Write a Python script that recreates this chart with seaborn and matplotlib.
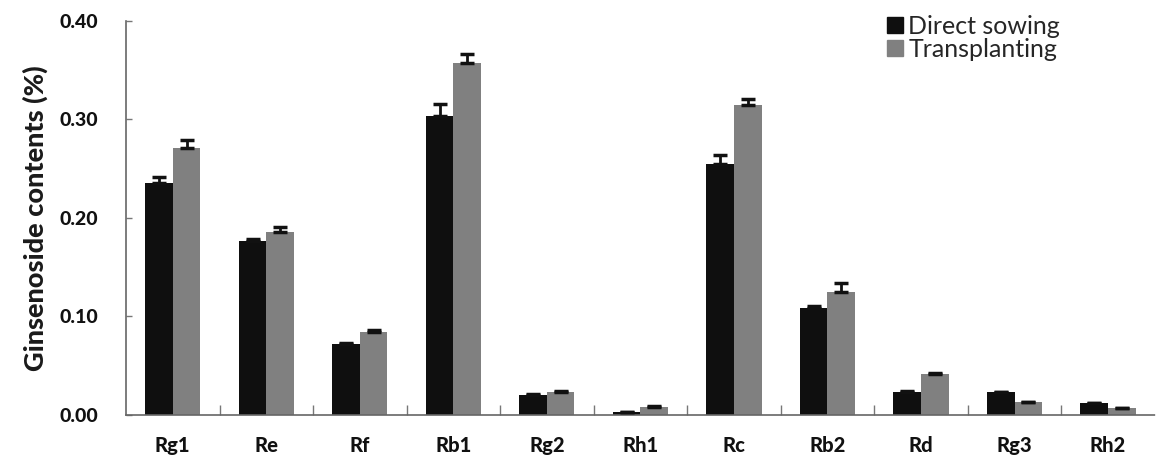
import matplotlib
matplotlib.use("Agg")
import matplotlib.pyplot as plt
import seaborn as sns
import pandas as pd
import numpy as np
from matplotlib.ticker import FixedLocator, MultipleLocator
from matplotlib.lines import Line2D

categories = ["Rg1", "Re", "Rf", "Rb1", "Rg2", "Rh1", "Rc", "Rb2", "Rd", "Rg3", "Rh2"]
direct_sowing = [0.235, 0.176, 0.072, 0.303, 0.020, 0.003, 0.255, 0.108, 0.023, 0.023, 0.012]
direct_err = [0.006, 0.003, 0.001, 0.013, 0.001, 0.000, 0.009, 0.003, 0.001, 0.000, 0.000]
transplanting = [0.271, 0.186, 0.084, 0.357, 0.023, 0.008, 0.315, 0.125, 0.042, 0.013, 0.007]
trans_err = [0.008, 0.005, 0.002, 0.009, 0.001, 0.001, 0.006, 0.009, 0.001, 0.000, 0.000]
series = ["Direct sowing", "Transplanting"]
colors = ["#0f0f0f", "#808080"]

df = pd.DataFrame({
    "ginsenoside": categories * 2,
    "value": direct_sowing + transplanting,
    "err": direct_err + trans_err,
    "method": [series[0]] * len(categories) + [series[1]] * len(categories),
})

sns.set_theme(style="white")
plt.rcParams["font.family"] = ["Lato", "DejaVu Sans"]

fig = plt.figure(figsize=(11.56, 4.72), dpi=100)
ax = fig.add_axes([0.109, 0.121, 0.89, 0.835])

sns.barplot(data=df, x="ginsenoside", y="value", hue="method", order=categories,
            hue_order=series, palette=colors, width=0.59, errorbar=None,
            saturation=1, ax=ax, legend=False, linewidth=0)

# one-sided error bars on top of each bar
for cont, errs in zip(ax.containers, [direct_err, trans_err]):
    xs = [p.get_x() + p.get_width() / 2 for p in cont.patches]
    hs = [p.get_height() for p in cont.patches]
    ax.errorbar(xs, hs, yerr=[np.zeros(len(errs)), errs], fmt="none",
                ecolor="#111111", elinewidth=2, capsize=5, capthick=2.5, zorder=5)

ax.set_xlim(-0.5, len(categories) - 0.5)
ax.set_ylim(0, 0.40)
ax.yaxis.set_major_locator(MultipleLocator(0.10))
ax.set_yticklabels([f"{v:.2f}" for v in ax.get_yticks()])
ax.xaxis.set_minor_locator(FixedLocator(np.arange(0.5, len(categories) - 0.5, 1.0)))

ax.tick_params(axis="x", which="major", length=0, pad=15, labelsize=14.5, colors="#111111")
ax.tick_params(axis="x", which="minor", direction="in", length=7, width=1, color="#777777", bottom=True)
ax.tick_params(axis="y", which="major", direction="in", length=4, width=1, color="#777777",
               left=True, pad=20, labelsize=14, labelcolor="#111111")
for lab in ax.get_xticklabels() + ax.get_yticklabels():
    lab.set_fontweight(900)

for side in ["top", "right"]:
    ax.spines[side].set_visible(False)
for side in ["left", "bottom"]:
    ax.spines[side].set_linestyle((0, (1, 1)))
    ax.spines[side].set_color("#666666")
    ax.spines[side].set_linewidth(1.2)

ax.set_xlabel("")
ax.set_ylabel("Ginsenoside contents (%)", fontsize=19.5, fontweight=900, color="#1a1a1a", labelpad=8)

handles = [Line2D([0], [0], marker="s", linestyle="none", markersize=11,
                  markerfacecolor=c, markeredgecolor=c) for c in colors]
ax.legend(handles, series, loc="upper right", bbox_to_anchor=(0.925, 1.06), frameon=False,
          fontsize=18, handletextpad=0.15, labelspacing=0.0, handlelength=0.8, borderpad=0.2)

fig.savefig("out.png", dpi=100)
